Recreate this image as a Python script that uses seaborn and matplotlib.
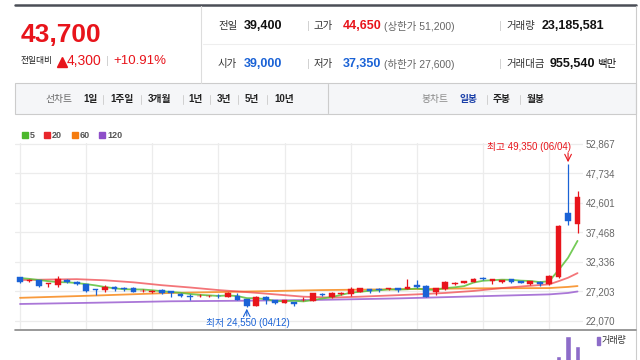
import numpy as np
import pandas as pd
import matplotlib
matplotlib.use("Agg")
import matplotlib.pyplot as plt
import seaborn as sns

# daily candles, 60 sessions (04/12 = lowest, 06/04 = highest)
opens = [29700, 29000, 29200, 28550, 28350, 29200, 28900, 28450, 27600, 27450,
         27900, 27750, 27850, 27250, 27150, 27550, 27250, 26700, 26400, 26400,
         26400, 26500, 26300, 26500, 25850, 24700, 26300, 25750, 25200, 25300,
         25650, 25600, 26750, 26200, 26850, 26850, 27150, 27550, 27700, 27600,
         27750, 27650, 28350, 28150, 27050, 27700, 28500, 28700, 28900, 29600,
         28950, 28900, 29300, 29000, 28450, 28900, 28450, 29700, 40800, 39000]
highs = [29750, 29400, 29200, 28650, 29850, 29450, 28950, 28450, 27600, 28300,
         28150, 28050, 27900, 27600, 27450, 27600, 27300, 26900, 26750, 26700,
         26600, 26800, 27150, 27000, 25900, 26400, 26400, 25800, 25800, 25350,
         26200, 27000, 26900, 27100, 27150, 27900, 27750, 27600, 27750, 27800,
         27750, 29300, 29200, 28300, 27800, 29000, 28900, 29100, 29600, 29700,
         29450, 29200, 29350, 29050, 29050, 28950, 30000, 38700, 49350, 44650]
lows = [28650, 28800, 27900, 28050, 28050, 28750, 28400, 27050, 26600, 27200,
        27350, 27250, 27150, 27100, 26950, 26850, 26300, 26300, 25750, 26200,
        26250, 26000, 26200, 25700, 24550, 24600, 25050, 25100, 25150, 24650,
        25500, 25550, 26450, 26150, 26600, 26500, 27150, 27000, 27050, 27500,
        27150, 27650, 27750, 26250, 26600, 27450, 28300, 28700, 28800, 29200,
        28550, 28600, 28750, 28600, 28400, 28200, 28300, 29500, 38800, 37350]
closes = [28900, 29150, 28200, 28600, 29300, 28800, 28450, 27300, 27450, 27900,
          27700, 27580, 27200, 27350, 27250, 26900, 26900, 26500, 26300, 26500,
          26450, 26400, 26950, 25750, 24700, 26300, 25750, 25150, 25750, 24950,
          25800, 26900, 26550, 26950, 26950, 27600, 27750, 27350, 27400, 27750,
          27450, 28000, 28000, 26300, 27750, 28900, 28700, 29050, 29400, 29300,
          29400, 29150, 28900, 28700, 29000, 28450, 29900, 38600, 39400, 43700]
volumes_m = [1.2, 0.9, 1.5, 0.8, 1.6, 0.9, 0.7, 1.4, 1.1, 0.9,
             0.7, 0.6, 0.8, 0.5, 0.5, 0.9, 0.8, 0.6, 0.7, 0.5,
             0.4, 0.5, 0.9, 1.0, 1.8, 1.6, 0.9, 0.7, 0.6, 0.8,
             0.6, 1.2, 0.6, 0.8, 0.5, 1.1, 0.7, 0.5, 0.5, 0.4,
             0.5, 2.1, 1.5, 2.4, 1.3, 1.6, 0.6, 0.6, 0.8, 0.6,
             0.6, 0.5, 0.5, 0.4, 0.5, 0.5, 2.8, 16.4, 29.7, 23.19]

# moving averages
ma5 = [29550, 29400, 29200, 29000, 28830, 28810, 28670, 28490, 28260, 27980,
       27760, 27590, 27570, 27550, 27420, 27260, 27120, 26980, 26770, 26620,
       26530, 26430, 26520, 26410, 26050, 26020, 25890, 25530, 25530, 25580,
       25480, 25710, 25990, 26230, 26630, 26990, 27160, 27320, 27410, 27570,
       27540, 27590, 27720, 27500, 27500, 27790, 27930, 28140, 28760, 29070,
       29170, 29260, 29230, 29090, 29030, 28840, 28990, 30930, 33070, 36010]
ma20_idx = [0, 3, 6, 9, 12, 15, 18, 21, 24, 27, 30, 33, 36, 39, 42, 45, 48, 51, 54, 56, 57, 58, 59]
ma20 = [29200, 29280, 29350, 29150, 28800, 28300, 27900, 27450, 27100, 26700, 26300, 26150,
        26300, 26500, 26700, 26950, 27300, 27800, 28200, 28450, 29000, 29600, 30400]
ma60_idx = [0, 8, 16, 24, 32, 40, 48, 56, 58, 59]
ma60 = [26100, 26500, 26950, 27200, 27450, 27600, 27750, 27800, 28000, 28150]
ma120_idx = [0, 8, 16, 24, 32, 40, 48, 56, 58, 59]
ma120 = [25030, 25250, 25500, 25600, 25750, 26000, 26350, 26700, 26950, 27200]

price_ticks = [22070, 27203, 32336, 37468, 42601, 47734, 52867]

RED = '#e8141b'
BLUE = '#1a62d6'

sns.set_theme(style="white")
plt.rcParams['font.family'] = ['Liberation Sans', 'Noto Sans CJK KR']

fig = plt.figure(figsize=(6.4, 3.6), dpi=100)

# background layer in pixel coordinates for the header / tabs
bg = fig.add_axes([0, 0, 1, 1])
bg.set_xlim(0, 640)
bg.set_ylim(360, 0)
bg.axis('off')

def T(x, y, s, size=7.5, color='#333333', **kw):
    bg.text(x, y, s, fontsize=size, color=color, va='center', **kw)

bg.plot([15, 636], [5, 5], color='#4b4e56', lw=1.8)
bg.plot([201, 201], [6, 83], color='#dddddd', lw=0.8)
bg.plot([203, 634], [44, 44], color='#eeeeee', lw=0.8)
bg.plot([636, 636], [6, 360], color='#cccccc', lw=0.8)
bg.add_patch(plt.Rectangle((15, 83), 621, 31, facecolor='#f5f6f8', edgecolor='#cccccc', lw=0.8))
bg.plot([328, 328], [84, 113], color='#cccccc', lw=0.8)

T(21, 35, '43,700', size=19, color=RED, fontweight='bold')
T(21, 61, '전일대비', size=6.3, color='#222222')
bg.plot(62, 61.5, marker='^', ms=6.5, color=RED, mec=RED)
T(67, 61, '4,300', size=10, color=RED)
T(106, 61, '|', size=8, color='#cccccc')
T(113, 61, '+10.91%', size=9.5, color=RED)

T(218, 26, '전일')
T(244, 26, '39,400', size=9, color='#111111', fontweight='bold')
T(307, 26, '|', size=8, color='#cccccc')
T(314, 26, '고가')
T(343, 26, '44,650', size=9, color=RED, fontweight='bold')
T(384, 26, '(상한가 51,200)', size=7.5, color='#666666')
T(499, 26, '|', size=8, color='#cccccc')
T(506, 26, '거래량')
T(542, 26, '23,185,581', size=9, color='#111111', fontweight='bold')

T(218, 64, '시가')
T(244, 64, '39,000', size=9, color=BLUE, fontweight='bold')
T(307, 64, '|', size=8, color='#cccccc')
T(314, 64, '저가')
T(343, 64, '37,350', size=9, color=BLUE, fontweight='bold')
T(384, 64, '(하한가 27,600)', size=7.5, color='#666666')
T(499, 64, '|', size=8, color='#cccccc')
T(506, 64, '거래대금')
T(550, 64, '955,540', size=9, color='#111111', fontweight='bold')
T(597, 64, '백만', size=7.5, color='#111111')

# tab bar
T(45, 99, '선차트', size=7, color='#666666')
tabs = [('1일', 83), ('1주일', 110), ('3개월', 148), ('1년', 188), ('3년', 217), ('5년', 245), ('10년', 274)]
for lab, x in tabs:
    T(x, 99, lab, size=7, color='#222222', fontweight='bold')
for x in [103, 141, 183, 210, 238, 267]:
    bg.plot([x, x], [95, 104], color='#d0d0d0', lw=0.7)
T(421, 99, '봉차트', size=7, color='#888888')
T(460, 99, '일봉', size=7, color='#1a3fa8', fontweight='bold')
T(493, 99, '주봉', size=7, color='#222222', fontweight='bold')
T(527, 99, '월봉', size=7, color='#222222', fontweight='bold')
for x in [487, 520]:
    bg.plot([x, x], [95, 104], color='#d0d0d0', lw=0.7)

# MA legend
legend = [('5', '#4cb82c', 22), ('20', '#e8262b', 44), ('60', '#f57c0f', 72), ('120', '#8e4fc9', 99)]
for lab, c, x in legend:
    bg.add_patch(plt.Rectangle((x, 132), 6, 6, facecolor=c, edgecolor=c))
    T(x + 8, 135.5, lab, size=6.5, color='#555555', fontweight='bold')

bg.plot([15, 636], [329.5, 329.5], color='#888888', lw=1.2)

# price chart
ax = fig.add_axes([15 / 640, 1 - 329 / 360, 568 / 640, 186 / 360])
ax.set_facecolor('none')
idx = np.arange(len(closes))
ax.set_xlim(-0.53, 59.58)
ax.set_ylim(20677, 53041)
for v in price_ticks:
    ax.axhline(v, color='#ececec', lw=0.9, zorder=0)
for i in range(0, 60, 7):
    ax.axvline(i, color='#ececec', lw=0.9, zorder=0)

sns.lineplot(x=ma120_idx, y=ma120, ax=ax, color='#9b5fd1', lw=1.3, alpha=0.85, zorder=2)
sns.lineplot(x=ma60_idx, y=ma60, ax=ax, color='#f7891a', lw=1.3, alpha=0.85, zorder=2)
sns.lineplot(x=ma20_idx, y=ma20, ax=ax, color='#f0474c', lw=1.3, alpha=0.75, zorder=2)
sns.lineplot(x=idx, y=ma5, ax=ax, color='#5cc23a', lw=1.3, alpha=0.85, zorder=2)

o = np.array(opens)
c = np.array(closes)
up = c >= o
colors = np.where(up, RED, BLUE)
ax.vlines(idx, lows, highs, colors=colors, lw=0.9, zorder=3)
ax.bar(idx, np.maximum(np.abs(c - o), 90), bottom=np.minimum(o, c), width=0.6,
       color=colors, edgecolor=colors, lw=0.3, zorder=4)

ax.set_yticks(price_ticks)
ax.set_yticklabels([f'{v:,}' for v in price_ticks])
ax.yaxis.tick_right()
ax.tick_params(axis='y', length=0, pad=2, labelsize=7, labelcolor='#666666')
ax.set_xticks([])
for s in ax.spines.values():
    s.set_visible(False)

ax.text(58.3, 52260, '최고 49,350 (06/04)', color=RED, fontsize=7, ha='right', va='center')
ax.annotate('', xy=(58, 49700), xytext=(58, 51350),
            arrowprops=dict(arrowstyle='->', color=RED, lw=0.8, shrinkA=0, shrinkB=0))
ax.text(24.1, 21800, '최저 24,550 (04/12)', color=BLUE, fontsize=7, ha='center', va='center')
ax.annotate('', xy=(24, 24200), xytext=(24, 22950),
            arrowprops=dict(arrowstyle='->', color=BLUE, lw=0.8, shrinkA=0, shrinkB=0))

# volume pane
vax = fig.add_axes([15 / 640, 0, 568 / 640, 30 / 360])
vax.set_facecolor('none')
vax.bar(idx, volumes_m, width=0.6, color='#8d6cc9')
vax.set_xlim(-0.53, 59.58)
vax.set_ylim(13.5, 33.8)
vax.set_xticks([])
vax.set_yticks([])
for s in vax.spines.values():
    s.set_visible(False)
bg.add_patch(plt.Rectangle((597, 337), 3, 8, facecolor='#8d6cc9', edgecolor='#8d6cc9'))
T(602, 341, '거래량', size=6.5, color='#333333')

fig.savefig('out.png', dpi=100)
